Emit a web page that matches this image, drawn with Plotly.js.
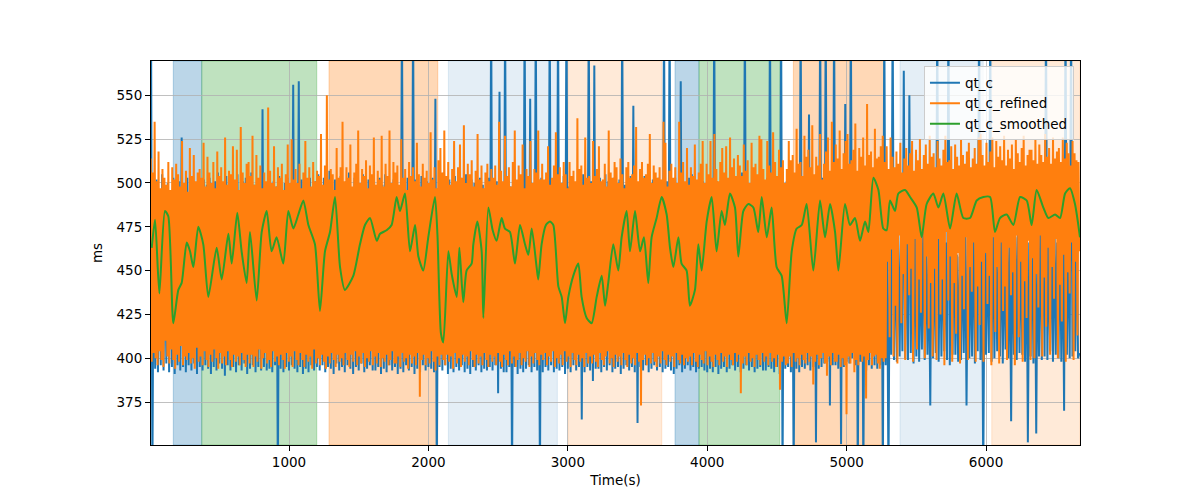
<!DOCTYPE html>
<html>
<head>
<meta charset="utf-8">
<script src="https://cdn.plot.ly/plotly-3.0.1.min.js"></script>
<style>html,body{margin:0;padding:0;background:#fff;}#chart{width:1200px;height:500px;}</style>
</head>
<body>
<div id="chart"></div>
<script>
// ---- sampling of the two dense series (seconds) ----
const qtcStart = 10, qtcStep = 10;
const refinedStart = 8, refinedStep = 7.02;

// ---- qt_c (raw), one value every 10 s ----
const qtc = [
600,330,497,394,502,392,495,396,505,393,490,397,500,392,496,395,503,391,494,396,501,393,526,395,497,392,503,396,494,393,501,397,499,391,504,395,496,393,502,396,
499,394,503,391,496,395,501,393,506,397,492,394,500,390,504,396,497,393,502,395,498,392,505,396,495,393,501,397,503,391,497,394,506,396,499,392,502,395,494,393,
542,395,499,393,503,394,496,392,501,396,498,330,504,394,497,392,500,395,503,393,498,396,556,394,497,392,558,395,502,391,497,394,500,392,503,396,495,393,501,395,
505,393,498,396,503,392,500,395,507,394,496,391,502,397,499,393,504,395,498,392,501,396,506,394,497,391,503,395,500,393,496,397,505,392,499,394,502,396,498,393,
501,393,497,395,503,391,499,394,505,392,500,396,498,393,502,395,504,391,497,394,600,392,500,396,503,393,498,395,600,391,502,394,499,392,504,396,497,393,501,395,
499,394,503,392,548,330,497,395,501,393,506,396,498,391,502,394,500,392,504,395,497,393,503,396,499,392,505,394,498,391,502,395,500,393,496,396,503,392,499,394,
497,393,503,395,600,393,499,396,501,380,552,394,498,392,600,392,502,395,498,330,505,395,499,391,503,394,497,392,600,394,501,396,548,392,499,395,600,393,502,330,
503,392,498,395,501,393,600,396,499,392,502,394,600,393,497,395,504,391,600,394,498,392,504,396,500,393,499,395,502,365,505,392,497,395,600,393,501,387,567,394,
500,394,503,392,498,395,505,393,501,396,499,392,503,394,497,395,502,391,600,394,499,396,501,393,504,395,544,392,500,363,499,395,503,393,504,396,498,392,497,394,
502,396,498,393,503,395,499,392,600,394,501,395,600,393,497,391,503,394,500,396,558,392,498,394,500,396,503,393,505,395,497,392,498,394,502,395,501,393,499,392,
504,394,498,392,600,395,501,391,499,394,503,395,497,392,502,394,500,396,498,393,501,395,504,392,506,394,600,396,499,393,500,395,503,392,498,394,501,395,502,393,
499,393,503,395,600,394,498,392,503,395,500,391,600,330,497,394,501,395,499,392,498,330,501,394,503,392,600,395,499,394,498,396,539,393,502,395,500,352,502,394,
600,395,503,397,600,398,505,373,499,396,600,396,502,394,503,351,500,395,545,398,504,397,600,400,498,396,502,330,496,398,501,330,502,393,499,396,498,394,503,396,
497,394,502,396,498,330,600,396,470,330,478,402,600,399,482,398,475,401,468,404,564,400,486,399,550,403,472,397,476,401,488,398,463,405,481,399,470,402,461,373,
485,400,472,403,600,398,479,401,472,404,466,399,600,396,483,402,489,402,459,398,458,399,474,403,484,373,470,400,467,401,487,397,461,404,600,399,479,330,476,402,
479,403,600,398,486,400,470,404,463,401,481,397,467,405,477,400,475,364,488,402,469,399,490,403,474,402,469,398,483,352,466,401,480,397,473,357,477,401,485,399,
488,401,600,399,471,404,479,398,485,402,466,400,482,398,476,370,600,402,483,400,600,401,472,404,480,400,403
];

// ---- qt_c_refined, one value every 7.02 s ----
const qtcRefined = [
514,398,506,403,535,400,501,396,518,404,497,399,508,395,503,410,499,401,512,397,496,405,509,399,502,394,511,402,505,398,498,407,524,396,500,401,507,399,495,403,520,397,504,400,516,394,501,406,506,398,
508,401,503,396,523,404,498,399,515,395,506,402,500,398,512,405,497,400,518,394,504,403,509,397,501,401,526,396,499,404,507,399,505,395,521,402,502,398,519,401,496,396,532,403,506,399,500,395,511,402,
512,397,504,402,527,395,499,401,516,398,503,405,510,394,497,400,506,403,501,397,543,399,507,395,500,404,521,398,498,401,509,396,503,402,511,399,496,394,505,403,522,398,500,401,525,395,502,404,508,399,
500,396,511,403,497,399,506,395,524,402,503,398,509,401,498,394,512,405,501,397,507,400,504,396,528,402,499,398,510,394,550,401,502,397,508,403,505,399,496,395,520,402,503,398,509,400,535,396,501,403,
509,399,503,395,522,402,498,398,506,404,511,396,530,401,500,397,508,403,504,395,513,400,497,398,510,404,505,396,526,401,499,397,507,403,502,395,527,400,498,398,511,402,504,396,530,399,500,404,512,397,
506,397,510,401,499,395,525,403,503,398,508,400,496,394,512,402,504,397,509,401,501,396,523,403,505,378,498,399,511,402,503,396,507,400,500,397,529,404,502,398,509,393,497,401,513,396,520,402,506,399,
530,396,504,402,512,398,499,401,508,394,524,403,501,397,509,400,522,395,503,402,533,398,500,401,511,396,505,404,513,399,498,395,507,402,528,397,502,401,510,396,497,403,506,399,511,395,501,402,508,398,
503,401,510,396,499,403,535,398,507,395,501,402,527,399,504,396,509,404,498,397,512,401,530,395,502,399,510,403,505,396,522,400,497,398,508,404,504,395,524,401,500,397,508,403,506,399,530,396,502,402,
511,399,502,403,506,396,521,401,499,398,503,404,510,395,529,400,505,397,509,402,500,396,512,404,505,398,497,401,512,395,504,403,507,399,501,396,537,402,508,398,510,400,499,395,526,403,503,397,504,401,
500,397,524,402,504,398,508,395,521,403,501,399,502,396,511,401,498,404,530,397,506,400,503,395,512,402,509,398,500,401,514,396,505,403,497,399,509,395,512,402,503,397,505,400,510,396,532,403,501,398,
508,373,512,399,503,402,505,396,511,400,528,397,500,403,510,398,506,395,503,401,509,397,502,404,535,399,523,396,498,402,507,398,511,401,503,395,509,403,500,399,535,397,506,402,512,396,501,400,520,398,
499,401,509,396,504,403,522,398,502,395,506,402,511,399,524,397,500,404,511,396,505,401,524,398,503,395,528,402,508,399,501,396,512,403,520,398,506,401,521,395,503,402,526,399,509,396,514,403,504,398,
516,402,510,380,504,397,522,401,507,396,513,403,500,398,523,400,509,395,511,402,505,399,527,396,525,403,508,398,502,401,524,396,510,403,506,398,529,400,512,395,504,402,519,382,509,398,513,401,500,396,
508,397,524,401,513,395,516,403,506,398,531,400,511,396,512,402,504,399,527,397,515,403,519,398,509,401,533,385,505,398,515,402,510,396,528,400,502,403,511,397,518,390,526,401,507,396,535,403,512,398,
522,398,514,402,530,395,508,400,517,396,524,368,528,401,511,397,513,403,519,392,534,399,507,396,520,402,515,398,526,401,510,377,545,399,516,403,518,396,509,401,531,402,514,397,515,394,521,400,527,398,
512,400,521,455,508,412,526,462,515,401,509,430,518,397,511,470,523,420,506,448,514,399,520,465,510,436,517,451,524,398,507,468,519,405,513,445,525,426,508,472,516,400,522,458,511,417,527,443,515,401,
517,451,509,399,524,468,514,425,510,445,519,396,527,472,512,433,513,458,521,398,508,443,522,414,515,460,510,397,525,447,516,428,511,469,518,399,523,452,509,438,514,466,520,398,511,441,526,419,528,455,
516,398,510,460,523,431,512,447,518,396,526,469,509,415,524,452,515,397,521,466,513,427,527,441,510,399,519,463,514,436,522,449,508,396,525,470,517,412,512,455,520,398,527,444,510,423,516,467,519,399,
519,457,513,400,525,448,511,429,522,470,516,401,512,446,528,418,515,463,520,402,511,452,526,434,514,468,518,400,520,442,512,421,526,459,514,398,523,449,517,437,510,466,524,399,517,455,513,413,512,461
];

// ---- qt_c_smoothed ----
const smoothTime = [
15,39,70,110,134,170,206,230,266,290,314,349,385,421,481,517,565,589,629,660,696,720,768,804,840,875,911,959,995,1031,
1067,1103,1139,1186,1222,1258,1294,1330,1366,1401,1461,1509,1545,1581,1629,1653,1700,1736,1772,1796,1832,1868,1904,1928,1963,1999,2047,2065,2090,
2107,2143,2167,2203,2222,2250,2274,2310,2322,2351,2382,2394,2430,2461,2489,2525,2549,2585,2621,2657,2693,2717,2741,2776,2788,2812,2843,2872,2896,
2932,2956,2980,3004,3039,3075,3099,3135,3171,3207,3243,3267,3290,3326,3362,3386,3422,3446,3482,3518,3546,3577,3601,3637,3673,3709,3733,3757,3793,
3816,3852,3876,3912,3936,3960,3996,4032,4067,4103,4127,4163,4199,4223,4259,4295,4331,4366,
4391,4427,4462,4498,4534,4570,4606,4642,4678,4713,4761,4809,4845,4881,4917,4941,4988,5024,5060,5096,5132,5156,5192,5228,5263,5287,5311,5347,5371,
5419,5455,5503,5538,5574,5622,5658,5694,5742,5789,5837,5885,5933,5981,6029,6064,6100,6148,6196,6244,6292,6327,6363,6411,6447,6495,6531,6567,6602,6638,6674
];
const qtcSmoothed = [
463,479,437,484,481,420,439,443,466,461,452,475,465,435,463,445,471,454,483,461,443,472,433,472,484,461,469,454,484,474,
482,490,476,465,427,461,472,492,452,439,447,465,476,480,467,471,473,476,492,484,494,461,476,458,450,469,492,470,414,
409,461,448,435,463,432,450,454,465,478,461,423,486,473,467,480,474,472,454,476,465,459,474,452,445,465,476,478,476,
441,435,420,435,447,454,435,423,420,435,447,430,443,465,450,469,484,461,484,461,469,443,469,480,492,482,463,452,469,
454,450,430,439,465,450,478,492,461,484,476,494,486,458,484,488,486,472,
492,469,486,452,447,420,461,474,476,488,450,490,469,488,472,450,488,476,480,467,478,472,503,496,474,473,490,484,494,
496,492,486,469,488,494,486,494,474,494,480,480,490,492,492,472,480,482,476,492,490,476,496,486,480,482,480,494,497,488,469
];

// ---- shaded intervals ----
const spanStart = [170, 374, 1287, 2143, 3004, 3769, 3941, 4618, 5383, 6041];
const spanEnd   = [374, 1199, 2067, 2925, 3674, 3941, 4520, 5265, 5980, 6674];
const spanKind  = ['blue','green','orange','lightblue','lightorange','blue','green','orange','lightblue','lightorange'];

const xTicks = [1000, 2000, 3000, 4000, 5000, 6000];
const yTicks = [375, 400, 425, 450, 475, 500, 525, 550];

const kindColor = {
  blue: 'rgba(31,119,180,0.3)',
  green: 'rgba(44,160,44,0.3)',
  orange: 'rgba(255,127,14,0.3)',
  lightblue: 'rgba(31,119,180,0.12)',
  lightorange: 'rgba(255,127,14,0.16)'
};

const qtcTime = qtc.map((_, i) => qtcStart + i * qtcStep);
const refinedTime = qtcRefined.map((_, i) => refinedStart + i * refinedStep);

const font = {family: 'DejaVu Sans, sans-serif', size: 13.5, color: '#000'};

const traces = [
  {x: qtcTime, y: qtc, type: 'scatter', mode: 'lines', name: 'qt_c',
   line: {color: '#1f77b4', width: 2}},
  {x: refinedTime, y: qtcRefined, type: 'scatter', mode: 'lines', name: 'qt_c_refined',
   line: {color: '#ff7f0e', width: 2}},
  {x: smoothTime, y: qtcSmoothed, type: 'scatter', mode: 'lines', name: 'qt_c_smoothed',
   line: {color: '#2ca02c', width: 2, shape: 'spline', smoothing: 0.6}}
];

const shapes = spanStart.map((s, i) => ({
  type: 'rect', xref: 'x', yref: 'paper', x0: s, x1: spanEnd[i], y0: 0, y1: 1,
  fillcolor: kindColor[spanKind[i]], line: {width: 1, color: kindColor[spanKind[i]]}, layer: 'below'
}));

const axisCommon = {
  showgrid: true, gridcolor: '#b0b0b0', gridwidth: 0.8,
  showline: true, linecolor: '#000', linewidth: 1, mirror: true,
  ticks: 'outside', ticklen: 5, tickwidth: 1, tickcolor: '#000',
  zeroline: false, tickfont: font
};

const layout = {
  width: 1200, height: 500,
  margin: {l: 151, r: 120, t: 61, b: 55},
  paper_bgcolor: '#fff', plot_bgcolor: '#fff',
  font: font,
  showlegend: true,
  xaxis: Object.assign({}, axisCommon, {
    range: [10, 6674], tickmode: 'array', tickvals: xTicks, ticktext: xTicks.map(String),
    title: {text: 'Time(s)', font: font, standoff: 6}
  }),
  yaxis: Object.assign({}, axisCommon, {
    range: [350.5, 569.6], tickmode: 'array', tickvals: yTicks, ticktext: yTicks.map(String),
    title: {text: 'ms', font: font, standoff: 10}
  }),
  legend: {
    x: 0.9935, y: 0.986, xanchor: 'right', yanchor: 'top',
    bgcolor: 'rgba(255,255,255,0.8)', bordercolor: '#cccccc', borderwidth: 1,
    font: font, tracegroupgap: 0
  },
  shapes: shapes
};

Plotly.newPlot('chart', traces, layout, {displayModeBar: false, staticPlot: true});
</script>
</body>
</html>
